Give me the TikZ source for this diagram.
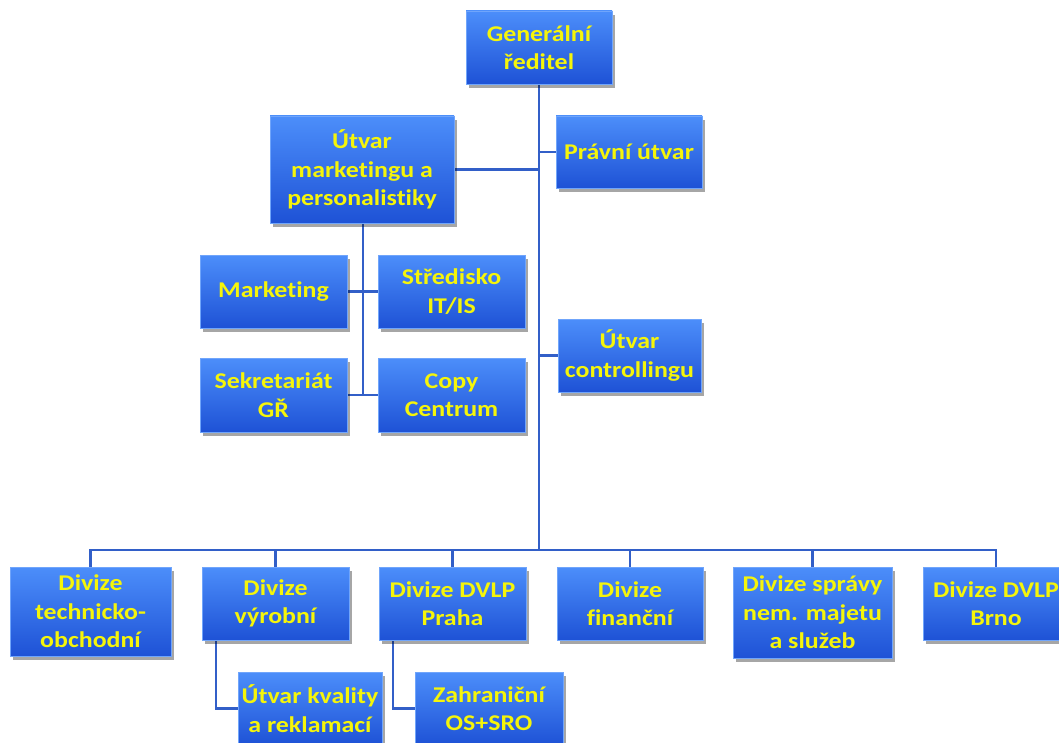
\documentclass[tikz,border=0pt]{standalone}
\usepackage{fontspec}
\newfontfamily\boxfont[FakeStretch=1.15,Ligatures=NoCommon]{Carlito}
\usetikzlibrary{shadows,backgrounds}
\definecolor{boxtop}{RGB}{76,142,250}
\definecolor{boxbot}{RGB}{30,82,214}
\definecolor{txt}{RGB}{245,245,10}
\definecolor{conn}{RGB}{50,95,200}
\tikzset{
  orgbox/.style={rectangle, inner sep=0pt, align=center,
    top color=boxtop, bottom color=boxbot, draw=boxtop!80!white, line width=0.6pt,
    text=txt, font=\boxfont\bfseries\fontsize{22.5}{28.5}\selectfont,
    drop shadow={opacity=0.35, shadow xshift=3pt, shadow yshift=-4pt, fill=black}},
  conline/.style={draw=conn, line width=2.2pt}
}
\begin{document}
\begin{tikzpicture}[x=1pt,y=-1pt]
\useasboundingbox (0,0) rectangle (1059,743);
\clip (0,0) rectangle (1059,743);
\node[orgbox, minimum width=146, minimum height=73] (gr) at (539,47.5) {Generální\\ředitel};
\node[orgbox, minimum width=184, minimum height=107] (mp) at (362,169.5) {Útvar\\marketingu a\\personalistiky};
\node[orgbox, minimum width=146, minimum height=72] (pu) at (629,152) {Právní útvar};
\node[orgbox, minimum width=147, minimum height=73] (mk) at (273.5,291.5) {Marketing};
\node[orgbox, minimum width=147, minimum height=73] (it) at (451.5,291.5) {Středisko\\IT/IS};
\node[orgbox, minimum width=147, minimum height=74] (sk) at (273.5,395) {Sekretariát\\GŘ};
\node[orgbox, minimum width=147, minimum height=74] (cc) at (451.5,395) {Copy\\Centrum};
\node[orgbox, minimum width=143, minimum height=73] (uc) at (629.5,355.5) {Útvar\\controllingu};
\node[orgbox, minimum width=161, minimum height=89] (d1) at (90.5,611.5) {Divize\\technicko-\\obchodní};
\node[orgbox, minimum width=147, minimum height=73] (d2) at (275.5,603.5) {Divize\\výrobní};
\node[orgbox, minimum width=147, minimum height=73] (d3) at (452.5,603.5) {Divize DVLP\\Praha};
\node[orgbox, minimum width=146, minimum height=73] (d4) at (630,603.5) {Divize\\finanční};
\node[orgbox, minimum width=159, minimum height=91] (d5) at (812.5,612.5) {Divize správy\\nem. majetu\\a služeb};
\node[orgbox, minimum width=146, minimum height=73] (d6) at (996,603.5) {Divize DVLP\\Brno};
\node[orgbox, minimum width=144, minimum height=73] (q) at (310,708.5) {Útvar kvality\\a reklamací};
\node[orgbox, minimum width=148, minimum height=73] (z) at (489,708.5) {Zahraniční\\OS+SRO};
\coordinate (bus) at (539,550);
\coordinate (mpe) at (363,395);
\begin{scope}[on background layer]
\draw[conline] (gr.south) -- (bus);
\draw[conline] (d1.north) |- (bus) -| (d6.north);
\draw[conline] (d2.north) -- (d2.north |- bus);
\draw[conline] (d3.north) -- (d3.north |- bus);
\draw[conline] (d4.north) -- (d4.north |- bus);
\draw[conline] (d5.north) -- (d5.north |- bus);
\draw[conline] (mp.east) -- (mp.east -| bus);
\draw[conline] (pu.west) -- (pu.west -| bus);
\draw[conline] (uc.west) -- (uc.west -| bus);
\draw[conline] (mp.south -| mpe) -- (mpe);
\draw[conline] (mk.east) -- (it.west);
\draw[conline] (sk.east) -- (cc.west);
\draw[conline] ([xshift=-59.5pt]d2.south) |- (q.west);
\draw[conline] ([xshift=-59.5pt]d3.south) |- (z.west);
\end{scope}
\end{tikzpicture}
\end{document}
